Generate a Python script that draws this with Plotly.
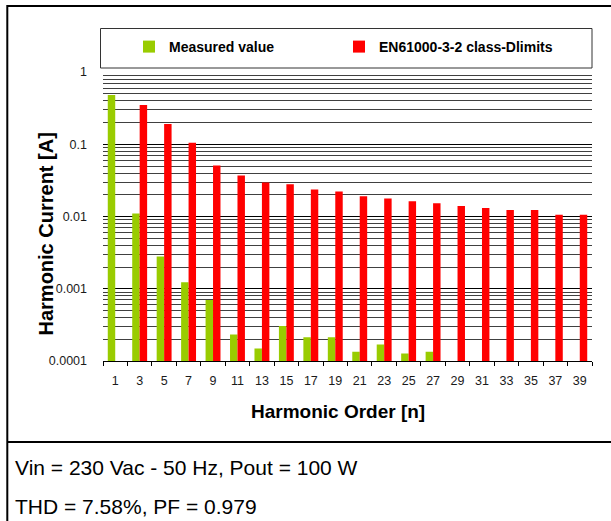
import plotly.graph_objects as go

# ---- data ----
harmonic_order = ["1", "3", "5", "7", "9", "11", "13", "15", "17", "19",
                  "21", "23", "25", "27", "29", "31", "33", "35", "37", "39"]
measured_value = [0.48, 0.011, 0.0028, 0.00123, 0.0007, 0.000232, 0.000149,
                  0.000305, 0.000213, 0.000213, 0.000134, 0.000169, 0.000127,
                  0.000134, None, None, None, None, None, None]
class_d_limits = [None, 0.35, 0.19, 0.105, 0.051, 0.037, 0.0295, 0.028, 0.0236,
                  0.0222, 0.019, 0.0178, 0.0162, 0.0152, 0.014, 0.0131, 0.0123,
                  0.0123, 0.0106, 0.0106]
y_tick_vals = [0.0001, 0.001, 0.01, 0.1, 1]
y_tick_text = ["0.0001", "0.001", "0.01", "0.1", "1"]
series_names = ["Measured value", "EN61000-3-2 class-Dlimits"]
x_title = "Harmonic Order [n]"
y_title = "Harmonic Current [A]"
info_lines = ["Vin = 230 Vac - 50 Hz, Pout = 100 W", "THD = 7.58%, PF = 0.979"]

W, H = 611, 521
ML, MR, MT, MB = 103, 19, 72, 160
PW, PH = W - ML - MR, H - MT - MB

def px(x):
    return (x - ML) / PW

def py(y):
    return (H - MB - y) / PH

FONT = "Liberation Sans, Arial, sans-serif"
LEGEND_FONT = dict(family=FONT, size=14, color="black", weight="bold")

fig = go.Figure()
fig.add_trace(go.Bar(x=harmonic_order, y=measured_value, name=series_names[0],
                     legend="legend",
                     marker=dict(color="#99CC00", line=dict(width=0))))
fig.add_trace(go.Bar(x=harmonic_order, y=class_d_limits, name=series_names[1],
                     legend="legend2",
                     marker=dict(color="#FF0000", line=dict(width=0))))

shapes = [
    # outer frame
    dict(type="rect", xref="paper", yref="paper", x0=px(7.3), x1=px(640),
         y0=py(6), y1=py(560), line=dict(color="black", width=2)),
    # separator
    dict(type="line", xref="paper", yref="paper", x0=px(7.3), x1=px(640),
         y0=py(442), y1=py(442), line=dict(color="black", width=2)),
    # legend frame
    dict(type="rect", xref="paper", yref="paper", x0=px(100.5), x1=px(592),
         y0=py(28.5), y1=py(68), line=dict(color="#333333", width=1)),
]

annotations = [
    dict(text=y_title, xref="paper", yref="paper", x=px(45.5), y=py(234),
         xanchor="center", yanchor="middle", textangle=-90, showarrow=False,
         font=dict(family=FONT, size=20, color="black", weight="bold")),
    dict(text=x_title, xref="paper", yref="paper", x=px(338), y=py(411),
         xanchor="center", yanchor="middle", showarrow=False,
         font=dict(family=FONT, size=19, color="black", weight="bold")),
    dict(text=info_lines[0], xref="paper", yref="paper", x=px(13), y=py(467),
         xanchor="left", yanchor="middle", showarrow=False,
         font=dict(family=FONT, size=21, color="black")),
    dict(text=info_lines[1], xref="paper", yref="paper", x=px(13), y=py(506),
         xanchor="left", yanchor="middle", showarrow=False,
         font=dict(family=FONT, size=21, color="black")),
]

fig.update_layout(
    width=W, height=H,
    margin=dict(l=ML, r=MR, t=MT, b=MB, pad=0, autoexpand=False),
    paper_bgcolor="white", plot_bgcolor="white",
    barmode="group", bargap=0.39, bargroupgap=0,
    font=dict(family=FONT, color="#1a1a1a"),
    showlegend=True,
    legend=dict(orientation="h", x=px(129), y=py(47), xanchor="left",
                yanchor="middle", font=LEGEND_FONT,
                bgcolor="rgba(0,0,0,0)", borderwidth=0),
    legend2=dict(orientation="h", x=px(339), y=py(47), xanchor="left",
                 yanchor="middle", font=LEGEND_FONT,
                 bgcolor="rgba(0,0,0,0)", borderwidth=0),
    shapes=shapes,
    annotations=annotations,
)

fig.update_xaxes(
    type="category", showgrid=False, showline=True, linecolor="black", linewidth=1,
    ticks="outside", tickson="boundaries", ticklen=4, tickcolor="black",
    ticklabelstandoff=8,
    tickfont=dict(family=FONT, size=12.5, color="#1a1a1a"),
    zeroline=False,
)

fig.update_yaxes(
    type="log", range=[-4, 0], tickvals=y_tick_vals, ticktext=y_tick_text,
    showgrid=True, gridcolor="black", gridwidth=1, showline=False, ticks="",
    ticklabelstandoff=15,
    tickfont=dict(family=FONT, size=12.5, color="#1a1a1a"),
    minor=dict(tickvals=[m * 10 ** e for e in range(-4, 0) for m in range(2, 10)],
               showgrid=True, gridcolor="#404040", gridwidth=1, ticks=""),
    zeroline=False,
)

fig.write_html(
    "out.html",
    config={"displayModeBar": False},
    post_script="document.body.style.margin='0';document.body.style.overflow='hidden';",
)
